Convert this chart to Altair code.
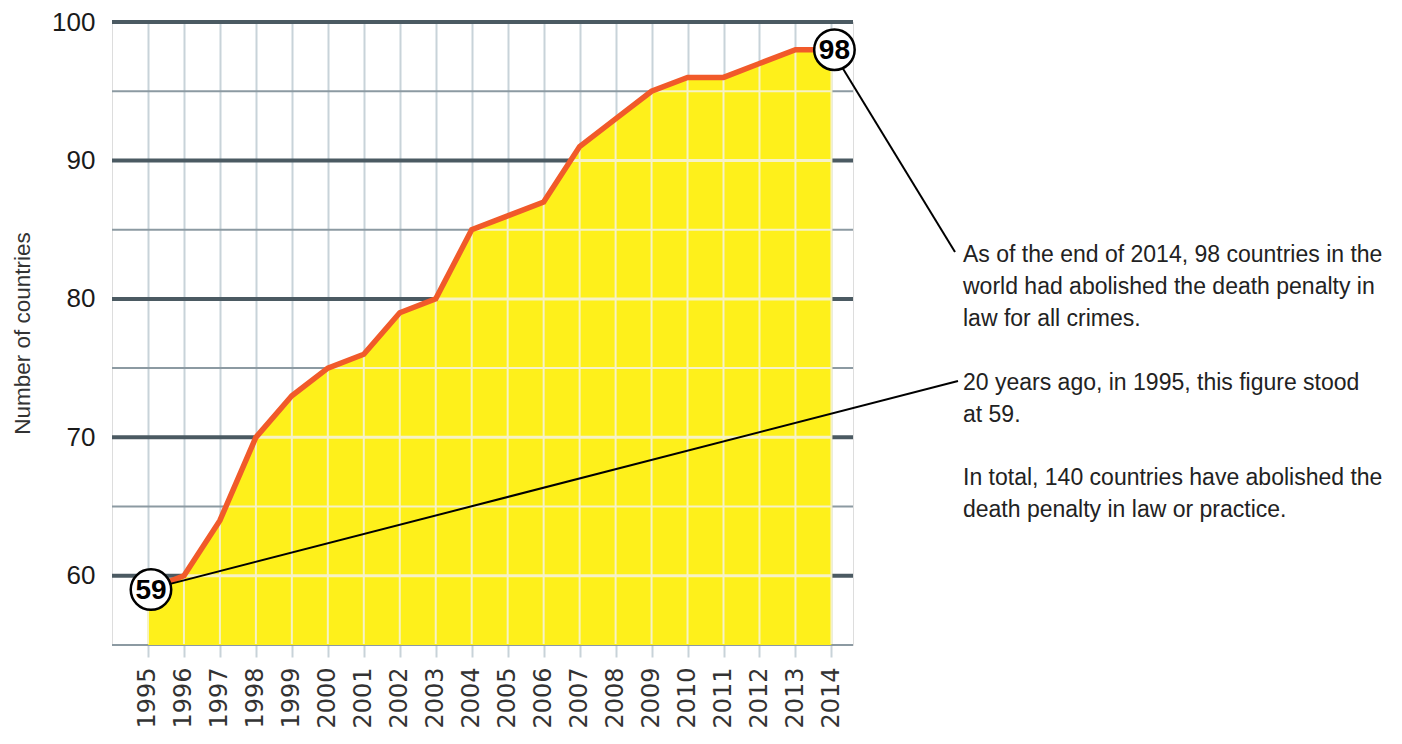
import altair as alt
import pandas as pd

# ---- data ----
years = list(range(1995, 2015))
values = [59, 60, 64, 70, 73, 75, 76, 79, 80, 85, 86, 87, 91, 93, 95, 96, 96, 97, 98, 98]
major_levels = [60, 70, 80, 90, 100]
minor_levels = [55, 65, 75, 85, 95]
y_min, y_max = 55, 100
y_title = "Number of countries"
note_1 = ["As of the end of 2014, 98 countries in the",
          "world had abolished the death penalty in",
          "law for all crimes."]
note_2 = ["20 years ago, in 1995, this figure stood",
          "at 59."]
note_3 = ["In total, 140 countries have abolished the",
          "death penalty in law or practice."]

df = pd.DataFrame({"year": years, "value": values})
df["floor"] = y_min
first_pt = df.iloc[[0]].reset_index(drop=True)
last_pt = df.iloc[[-1]].reset_index(drop=True)
ends = df.iloc[[0, -1]].reset_index(drop=True)

# pale grid inside the filled area: horizontal segments from where the curve crosses each level
inner = []
for lv in sorted(major_levels + minor_levels):
    if lv == y_min:
        continue
    idx = next((i for i, v in enumerate(values) if v >= lv), None)
    if idx is None:
        continue
    if idx == 0:
        xs = years[0]
    else:
        v0, v1 = values[idx - 1], values[idx]
        xs = years[idx - 1] + (lv - v0) / (v1 - v0)
    inner.append({"level": lv, "x0": xs, "x1": years[-1], "major": lv % 10 == 0})
inner_df = pd.DataFrame(inner)

W, H = 741, 623
xs_ = alt.Scale(domain=[1994, 2014.6], nice=False, zero=False)
ys_ = alt.Scale(domain=[y_min, y_max], nice=False, zero=False)

GRID_V = "#c8d3d9"
DARK = "#4b5a62"
THIN = "#8c9aa2"
PALE = "#f6f2c6"
YELLOW = "#fef01b"
ORANGE = "#f15a2a"

X_AX = alt.Axis(values=years, format="d", labelAngle=270, labelFontSize=24,
                labelFont="DejaVu Sans", labelColor="#333", labelPadding=10,
                tickSize=12, tickColor=GRID_V, tickWidth=2, domain=False,
                grid=True, gridColor=GRID_V, gridWidth=2, title=None)
Y_AX = alt.Axis(values=major_levels, labelFontSize=26, labelFont="Liberation Sans",
                labelColor="#1a1a1a", labelPadding=17, ticks=False, domain=False,
                grid=False, title=None)


def X(f):
    return alt.X(f, scale=xs_, axis=X_AX, title=None)


def Y(f):
    return alt.Y(f, scale=ys_, axis=Y_AX, title=None)


base = alt.Chart(df)

major_rules = alt.Chart(pd.DataFrame({"level": major_levels})).mark_rule(
    color=DARK, strokeWidth=4).encode(y=Y("level:Q"))
minor_rules = alt.Chart(pd.DataFrame({"level": minor_levels})).mark_rule(
    color=THIN, strokeWidth=2).encode(y=Y("level:Q"))

area = base.mark_area(color=YELLOW, opacity=1, clip=True).encode(
    x=X("year:Q"), y=Y("value:Q"), y2="floor:Q")

pale_v = base.mark_rule(color=PALE, strokeWidth=2).encode(
    x=X("year:Q"), y=Y("value:Q"), y2=alt.value(H - 1))
pale_h_major = alt.Chart(inner_df[inner_df["major"]]).mark_rule(
    color=PALE, strokeWidth=3).encode(x=X("x0:Q"), x2="x1:Q", y=Y("level:Q"))
pale_h_minor = alt.Chart(inner_df[~inner_df["major"]]).mark_rule(
    color=PALE, strokeWidth=2).encode(x=X("x0:Q"), x2="x1:Q", y=Y("level:Q"))

line = base.mark_line(color=ORANGE, strokeWidth=5.5).encode(x=X("year:Q"), y=Y("value:Q"))

lead_end = alt.Chart(last_pt).mark_rule(color="black", strokeWidth=2).encode(
    x=X("year:Q"), y=Y("value:Q"), x2=alt.value(843), y2=alt.value(230))
lead_start = alt.Chart(first_pt).mark_rule(color="black", strokeWidth=2).encode(
    x=X("year:Q"), y=Y("value:Q"), x2=alt.value(846), y2=alt.value(359))

circles = alt.Chart(ends).mark_point(shape="circle", filled=True, fill="white", stroke="black",
                                     strokeWidth=2.5, size=1640, opacity=1, xOffset=3).encode(
    x=X("year:Q"), y=Y("value:Q"))
circle_txt = alt.Chart(ends).mark_text(font="Liberation Sans", fontWeight="bold", fontSize=28,
                                       color="black", xOffset=3, dy=1, baseline="middle",
                                       align="center").encode(
    x=X("year:Q"), y=Y("value:Q"), text="value:Q")


def note(lines, ypx):
    return alt.Chart(pd.DataFrame({"k": [0]})).mark_text(
        text=lines, font="Liberation Sans", fontSize=23, color="#222", align="left",
        baseline="alphabetic", lineHeight=32).encode(x=alt.value(851), y=alt.value(ypx))


ytitle = alt.Chart(pd.DataFrame({"k": [0]})).mark_text(
    text=y_title, font="Liberation Sans", fontSize=22.5, color="#333", angle=270,
    align="center", baseline="alphabetic").encode(x=alt.value(-82), y=alt.value(H / 2))

chart = alt.layer(
    major_rules, minor_rules, area, pale_v, pale_h_major, pale_h_minor, line,
    lead_end, lead_start, circles, circle_txt,
    note(note_1, 240), note(note_2, 368), note(note_3, 463), ytitle,
).properties(
    width=W, height=H,
    autosize=alt.AutoSizeParams(type="none"),
    padding={"left": 104, "top": 14, "right": 540, "bottom": 90},
).configure_view(stroke=None).configure(background="white")

chart.save("out.html", embed_options={"renderer": "svg", "actions": False})
